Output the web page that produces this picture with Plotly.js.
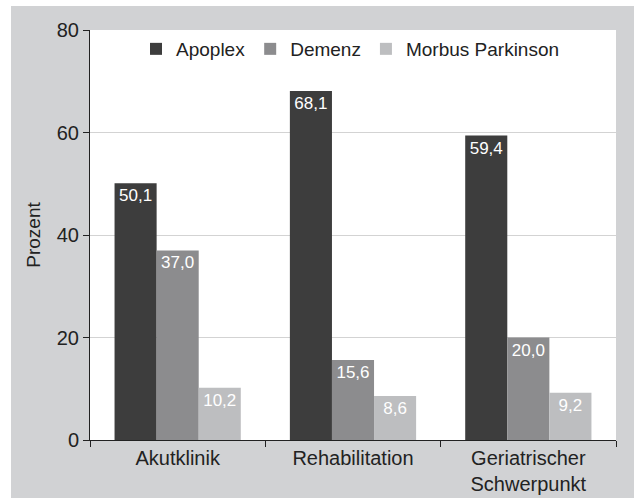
<!DOCTYPE html>
<html>
<head>
<meta charset="utf-8">
<script src="https://cdn.plot.ly/plotly-3.0.1.min.js"></script>
<style>
html,body{margin:0;padding:0;background:#ffffff;}
#chart{position:absolute;left:11px;top:6px;width:623px;height:492px;}
</style>
</head>
<body>
<div id="chart"></div>
<script>
var categories = ["Akutklinik", "Rehabilitation", "Geriatrischer<br>Schwerpunkt"];
var seriesNames = ["Apoplex", "Demenz", "Morbus Parkinson"];
var apoplex = [50.1, 68.1, 59.4];
var demenz = [37.0, 15.6, 20.0];
var parkinson = [10.2, 8.6, 9.2];
var yTicks = [0, 20, 40, 60, 80];

var colors = ["#3d3d3d", "#8c8c8e", "#bdbec0"];
var values = [apoplex, demenz, parkinson];
var FONT = "Liberation Sans, Arial, sans-serif";

var traces = values.map(function (v, i) {
  return {
    type: "bar",
    name: seriesNames[i],
    x: categories,
    y: v,
    marker: {color: colors[i], line: {width: 0}},
    texttemplate: "%{y:.1f}",
    textposition: "inside",
    insidetextanchor: "end",
    textangle: 0,
    textfont: {color: "#ffffff", size: 17, family: FONT},
    cliponaxis: false,
    hoverinfo: "none"
  };
});

var layout = {
  width: 623,
  height: 492,
  separators: ",.",
  paper_bgcolor: "#d1d2d4",
  plot_bgcolor: "#ffffff",
  margin: {l: 79, r: 18, t: 24, b: 58},
  font: {family: FONT, size: 19, color: "#222222"},
  barmode: "group",
  bargap: 0.28,
  bargroupgap: 0,
  showlegend: true,
  legend: {
    orientation: "h",
    x: 0.0875, xanchor: "left",
    y: 1.0, yanchor: "top",
    bgcolor: "rgba(0,0,0,0)",
    font: {size: 19, color: "#222222", family: FONT},
    itemwidth: 30,
    traceorder: "normal"
  },
  xaxis: {
    type: "category",
    showline: true,
    linecolor: "#222222",
    linewidth: 1,
    ticks: "outside",
    tickson: "boundaries",
    ticklen: 6,
    tickcolor: "#222222",
    showgrid: false,
    tickfont: {size: 20, color: "#222222", family: FONT},
    mirror: false
  },
  yaxis: {
    range: [0, 80],
    tickvals: yTicks,
    ticktext: yTicks.map(String),
    showline: true,
    linecolor: "#222222",
    linewidth: 1,
    ticks: "outside",
    ticklen: 6,
    tickcolor: "#222222",
    showgrid: true,
    gridcolor: "#d3d3d3",
    gridwidth: 1,
    zeroline: false,
    tickfont: {size: 20, color: "#222222", family: FONT},
    title: {text: "Prozent", font: {size: 19, color: "#222222", family: FONT}, standoff: 11}
  }
};

Plotly.newPlot("chart", traces, layout, {displayModeBar: false, staticPlot: true});
</script>
</body>
</html>
